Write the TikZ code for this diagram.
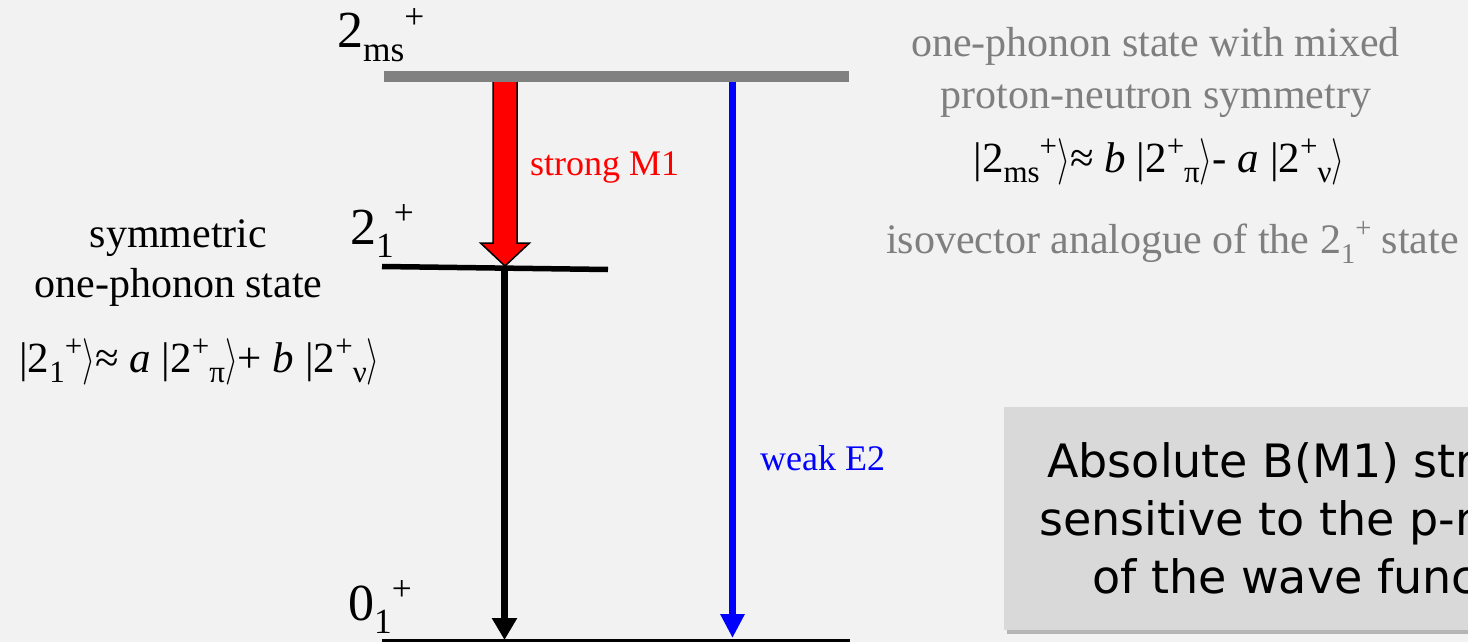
\documentclass[tikz,border=0pt]{standalone}
\usepackage{fix-cm}
\usepackage{fontspec}
\setmainfont{Liberation Serif}
\newfontfamily\boxfont{DejaVu Sans}
\usepackage{graphicx}
\usetikzlibrary{arrows.meta,calc}
\definecolor{bg}{HTML}{F2F2F2}
\definecolor{lvlgray}{HTML}{808080}
\definecolor{txtgray}{HTML}{7F7F7F}
\definecolor{boxgray}{HTML}{D9D9D9}
\definecolor{pblue}{HTML}{0000FF}
\definecolor{pred}{HTML}{FF0000}
\newcommand\lsub[1]{\raisebox{-0.26em}{\scalebox{0.68}{#1}}}
\newcommand\lsup[1]{\raisebox{0.38em}{\scalebox{0.68}{#1}}}
\newcommand\fsub[1]{\raisebox{-0.24em}{\scalebox{0.72}{#1}}}
\newcommand\fsup[1]{\raisebox{0.36em}{\scalebox{0.72}{#1}}}
\newcommand\myket{\raisebox{-0.04em}{\resizebox*{0.3em}{1.08em}{$\rangle$}}}
\tikzset{
  lbl/.style={inner sep=0pt, anchor=base west},
  ctr/.style={inner sep=0pt, anchor=base},
  big/.style={font=\fontsize{52}{56}\selectfont},
  body/.style={font=\fontsize{42}{48}\selectfont},
  formula/.style={font=\fontsize{43}{48}\selectfont},
  small/.style={font=\fontsize{36}{40}\selectfont},
  boxtxt/.style={inner sep=0pt, anchor=base west, font=\boxfont\fontsize{46}{50}\selectfont},
  level/.style={line cap=butt},
  thinarrow/.style={line width=7pt},
}
\begin{document}
\begin{tikzpicture}[x=1pt,y=-1pt]
\useasboundingbox (0,0) rectangle (1468,642);
\clip (0,0) rectangle (1468,642);
\fill[bg] (0,0) rectangle (1468,642);

% coordinates
\coordinate (msL) at (384,76.5);
\coordinate (msR) at (849,76.5);
\coordinate (oneL) at (382,266.5);
\coordinate (oneR) at (608,269.5);
\coordinate (gsL) at (382,641.5);
\coordinate (gsR) at (850,641.5);
\coordinate (m1s) at (505,79);
\coordinate (m1e) at (505,266);
\coordinate (e2s) at (504.5,268);
\coordinate (e2e) at (504.5,640);
\coordinate (wks) at (732.5,80);
\coordinate (wke) at (732.5,638);

% red block arrow (strong M1)
\draw[fill=pred, draw=black, line width=1.5pt, line join=miter]
  ($(m1s)+(-12,0)$) -- ($(m1e)+(-12,-23)$) -- ($(m1e)+(-24.5,-23)$) -- (m1e)
  -- ($(m1e)+(24.5,-23)$) -- ($(m1e)+(12,-23)$) -- ($(m1s)+(12,0)$) -- cycle;

% blue arrow (weak E2)
\draw[thinarrow, pblue, -{Triangle[width=23pt,length=24pt]}] (wks) -- (wke);

% black arrow
\draw[thinarrow, black, -{Triangle[width=24pt,length=22pt]}] (e2s) -- (e2e);

% levels
\draw[level, lvlgray, line width=11.5pt] (msL) -- (msR);
\draw[level, black, line width=5.5pt] (oneL) -- (oneR);
\draw[level, black, line width=5pt] (gsL) -- (gsR);

% level labels
\node[lbl, big] (lms) at (337,48) {2\lsub{ms}\lsup{+}};
\node[lbl, big] (l21) at (350,244) {2\lsub{1}\lsup{+}};
\node[lbl, big] (l01) at (348,620) {0\lsub{1}\lsup{+}};

% transition labels
\node[lbl, small, text=pred] (tm1) at (530,175) {strong M1};
\node[lbl, small, text=pblue] (te2) at (760,470) {weak E2};

% left description
\node[ctr, body] (sym1) at (178.5,247) {symmetric};
\node[ctr, body] (sym2) at (178.5,297) {one-phonon state};
\node[ctr, formula] (sym3) at (199.5,372) {|2\fsub{1}\fsup{+}\myket≈ \textit{a} |2\fsup{+}\fsub{π}\myket+ \textit{b} |2\fsup{+}\fsub{ν}\myket};

% right description
\node[ctr, body, text=txtgray] (mix1) at (1155.5,57) {one-phonon state with mixed};
\node[ctr, body, text=txtgray] (mix2) at (1156,108) {proton-neutron symmetry};
\node[ctr, formula] (mix3) at (1159,172) {|2\fsub{ms}\fsup{+}\myket≈ \textit{b} |2\fsup{+}\fsub{π}\myket- \textit{a} |2\fsup{+}\fsub{ν}\myket};
\node[ctr, body, text=txtgray] (iso) at (1172.5,253) {isovector analogue of the 2\lsub{1}\lsup{+} state};

% box
\fill[black, opacity=0.25] (1007,411) rectangle (1475,634);
\fill[boxgray] (1004,407) rectangle (1475,630);
\node[boxtxt] (b1) at (1047,477) {Absolute B(M1) strengths};
\node[boxtxt] (b2) at (1039,535) {sensitive to the p-n structure};
\node[boxtxt] (b3) at (1092,593) {of the wave functions};
\end{tikzpicture}
\end{document}
